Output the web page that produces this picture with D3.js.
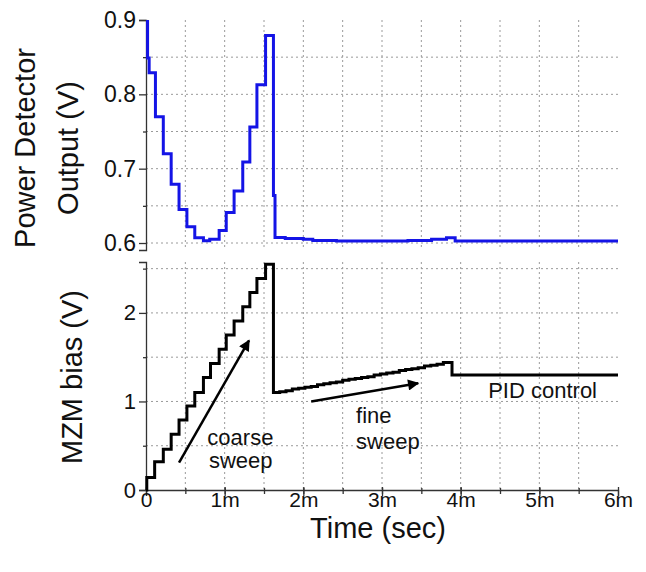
<!DOCTYPE html>
<html>
<head>
<meta charset="utf-8">
<script src="https://cdn.jsdelivr.net/npm/d3@7.9.0/dist/d3.min.js"></script>
<style>
  body { margin: 0; background: #fff; }
  svg { font-family: "Liberation Sans", Arial, sans-serif; }
  .grid line { stroke: #9a9a9a; stroke-width: 1; stroke-dasharray: 2,3; }
  .axis path, .axis line { stroke: #333; stroke-width: 1.3; }
  .axis text { fill: #111; font-size: 22px; font-family: "Liberation Sans", Arial, sans-serif; }
  .axis.top text { font-size: 23px; }
  .axis.xax text { font-size: 21px; }
</style>
</head>
<body>
<svg id="chart" width="646" height="572"></svg>
<script>
// time in ms, step changes (value holds until next time)
const detTime  = [0, 0.02, 0.04, 0.12, 0.22, 0.32, 0.42, 0.52, 0.62, 0.73, 0.81, 0.93, 1.02, 1.12, 1.23, 1.32, 1.41, 1.52, 1.62, 1.64, 1.77, 2.00, 2.12, 2.42, 3.33, 3.63, 3.82, 3.93, 6.0];
const detValue = [0.898, 0.849, 0.829, 0.770, 0.720, 0.679, 0.645, 0.622, 0.607, 0.603, 0.605, 0.617, 0.641, 0.670, 0.709, 0.756, 0.813, 0.879, 0.664, 0.6075, 0.6062, 0.6049, 0.6035, 0.6026, 0.6035, 0.6049, 0.607, 0.6026, 0.6026];

const biasTime  = [0, 0.01, 0.11, 0.22, 0.32, 0.42, 0.52, 0.62, 0.73, 0.82, 0.93, 1.02, 1.12, 1.23, 1.32, 1.41, 1.52,
                   1.62, 1.70, 1.78, 1.86, 1.94, 2.02, 2.10, 2.18, 2.26, 2.34, 2.42, 2.50, 2.58, 2.66, 2.74, 2.82, 2.90, 2.98, 3.06, 3.14, 3.22, 3.30, 3.38, 3.46, 3.54, 3.62, 3.70, 3.78,
                   3.89, 6.0];
const biasValue = [0, 0.14, 0.32, 0.46, 0.63, 0.79, 0.95, 1.10, 1.27, 1.43, 1.59, 1.75, 1.91, 2.07, 2.23, 2.39, 2.55,
                   1.10, 1.11, 1.12, 1.14, 1.15, 1.16, 1.17, 1.19, 1.20, 1.21, 1.22, 1.24, 1.25, 1.26, 1.27, 1.28, 1.30, 1.31, 1.32, 1.33, 1.35, 1.36, 1.37, 1.38, 1.40, 1.41, 1.42, 1.44,
                   1.30, 1.30];

const xTicks = [0, 1, 2, 3, 4, 5, 6];
const detTicks = [0.6, 0.7, 0.8, 0.9];
const biasTicks = [0, 1, 2];

// annotations, in data units of the bias panel
const arrows = [
  { from: [0.42, 0.31], to: [1.31, 1.69] },
  { from: [2.10, 1.00], to: [3.46, 1.205] }
];
const notes = [
  { t: 0.78, v: 0.51, text: "coarse" },
  { t: 0.80, v: 0.245, text: "sweep" },
  { t: 2.67, v: 0.754, text: "fine" },
  { t: 2.67, v: 0.463, text: "sweep" },
  { t: 4.35, v: 1.043, text: "PID control" }
];

const svg = d3.select('#chart');
const x = d3.scaleLinear().domain([0, 6]).range([146, 618]);
const yTop = d3.scaleLinear().domain([0.5906, 0.9]).range([250, 20]);
const yBot = d3.scaleLinear().domain([0, 2.575]).range([490, 262]);

const halfSteps = d3.range(0.5, 6, 0.5);

function grid(y, hLines, top, bottom) {
  const g = svg.append('g').attr('class', 'grid');
  g.selectAll('.v').data(halfSteps).join('line')
    .attr('x1', d => x(d)).attr('x2', d => x(d))
    .attr('y1', top).attr('y2', bottom);
  g.selectAll('.h').data(hLines).join('line')
    .attr('x1', x(0)).attr('x2', x(6))
    .attr('y1', d => y(d)).attr('y2', d => y(d));
}
grid(yTop, [0.6, 0.65, 0.7, 0.75, 0.8, 0.85], 20, 250);
grid(yBot, [0.5, 1, 1.5, 2, 2.5], 262, 490);

// y axes
function yAxis(y, ticks, minor, fmt, cls) {
  svg.append('g').attr('class', 'axis ' + cls)
    .attr('transform', `translate(${x(0)},0)`)
    .call(d3.axisLeft(y).tickValues(ticks).tickSize(7).tickPadding(3).tickFormat(fmt));
  svg.append('g').attr('class', 'axis')
    .attr('transform', `translate(${x(0)},0)`)
    .call(d3.axisLeft(y).tickValues(minor).tickSize(3).tickFormat(''))
    .select('.domain').remove();
}
yAxis(yTop, detTicks, [0.65, 0.75, 0.85], d3.format('.1f'), 'top');
yAxis(yBot, biasTicks, [0.5, 1.5, 2.5], d3.format('d'), 'bot');

// x axis (bottom panel only)
const xa = svg.append('g').attr('class', 'axis xax').attr('transform', `translate(0,${yBot(0)})`);
xa.call(d3.axisBottom(x).tickValues(xTicks).tickSize(6)
  .tickFormat(d => d === 0 ? '0' : d + 'm'));
xa.selectAll('.tick line').attr('y1', -3);
xa.selectAll('.tick text').attr('y', 17).attr('dy', 0);
svg.append('g').attr('class', 'axis').attr('transform', `translate(0,${yBot(0)})`)
  .call(d3.axisBottom(x).tickValues(halfSteps).tickSize(4).tickFormat(''))
  .call(g => g.select('.domain').remove())
  .selectAll('.tick line').attr('y1', -2);

// traces
const step = d3.line().curve(d3.curveStepAfter);
svg.append('path')
  .attr('d', step(detTime.map((t, i) => [x(t), yTop(detValue[i])])))
  .attr('fill', 'none').attr('stroke', '#1414e6').attr('stroke-width', 3)
  .attr('stroke-linejoin', 'miter');
svg.append('path')
  .attr('d', step(biasTime.map((t, i) => [x(t), yBot(biasValue[i])])))
  .attr('fill', 'none').attr('stroke', '#000').attr('stroke-width', 3)
  .attr('stroke-linejoin', 'miter');

// arrows
svg.append('defs').append('marker')
  .attr('id', 'head').attr('viewBox', '0 0 10 10')
  .attr('refX', 9).attr('refY', 5)
  .attr('markerWidth', 5).attr('markerHeight', 4.5)
  .attr('markerUnits', 'strokeWidth').attr('orient', 'auto')
  .append('path').attr('d', 'M0,0L10,5L0,10z').attr('fill', '#000');
svg.selectAll('.arrow').data(arrows).join('line')
  .attr('x1', d => x(d.from[0])).attr('y1', d => yBot(d.from[1]))
  .attr('x2', d => x(d.to[0])).attr('y2', d => yBot(d.to[1]))
  .attr('stroke', '#000').attr('stroke-width', 2.5)
  .attr('marker-end', 'url(#head)');

svg.selectAll('.note').data(notes).join('text')
  .attr('x', d => x(d.t)).attr('y', d => yBot(d.v))
  .attr('font-size', 22).attr('fill', '#111')
  .text(d => d.text);

// axis titles
svg.append('text').attr('transform', 'translate(35,148) rotate(-90)')
  .attr('text-anchor', 'middle').attr('font-size', 29).attr('fill', '#111')
  .text('Power Detector');
svg.append('text').attr('transform', 'translate(78,148) rotate(-90)')
  .attr('text-anchor', 'middle').attr('font-size', 29).attr('fill', '#111')
  .text('Output (V)');
svg.append('text').attr('transform', 'translate(82,377) rotate(-90)')
  .attr('text-anchor', 'middle').attr('font-size', 29).attr('fill', '#111')
  .text('MZM bias (V)');
svg.append('text').attr('x', 378).attr('y', 538)
  .attr('text-anchor', 'middle').attr('font-size', 29).attr('fill', '#111')
  .text('Time (sec)');
</script>
</body>
</html>
